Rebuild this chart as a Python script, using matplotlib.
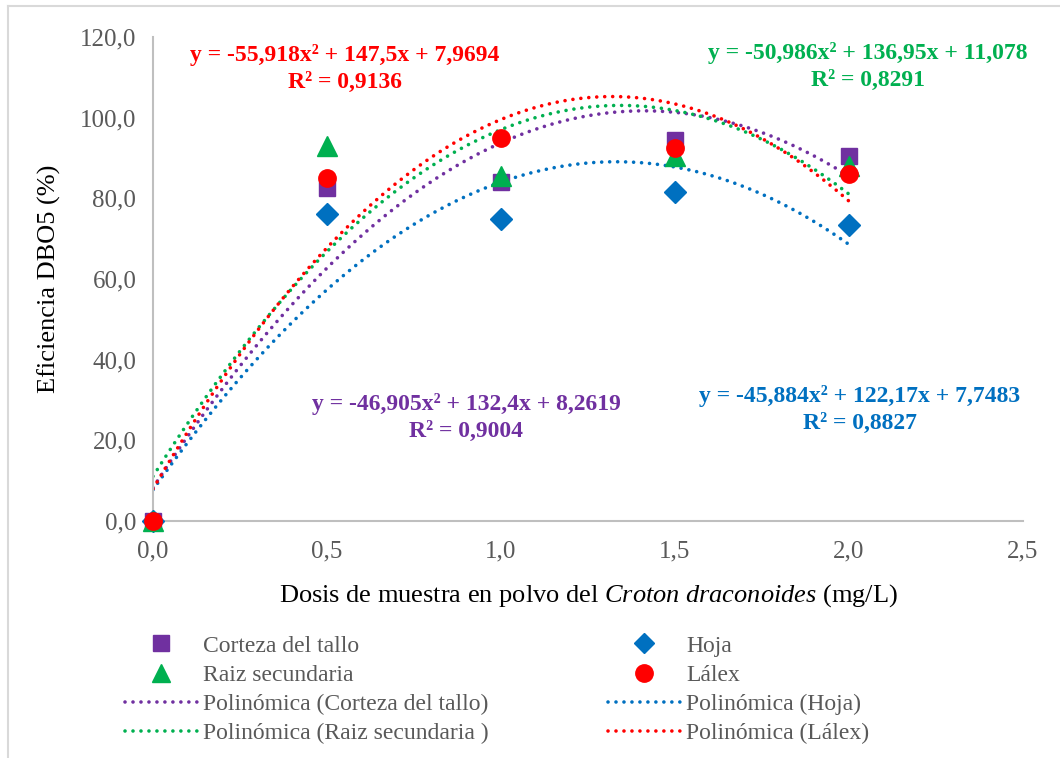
import numpy as np
import matplotlib
matplotlib.use("Agg")
import matplotlib.pyplot as plt
from matplotlib.lines import Line2D

plt.rcParams['font.family'] = ['Liberation Serif', 'DejaVu Serif']
plt.rcParams['mathtext.fontset'] = 'custom'
plt.rcParams['mathtext.rm'] = 'Liberation Serif'
plt.rcParams['mathtext.it'] = 'Liberation Serif:italic'

dosis = [0.0, 0.5, 1.0, 1.5, 2.0]
corteza = [0.0, 82.5, 84.0, 94.5, 90.5]
hoja = [0.0, 76.0, 75.0, 81.5, 73.3]
raiz = [0.0, 93.0, 85.5, 90.5, 88.0]
lalex = [0.0, 85.0, 95.0, 92.5, 86.0]

# polynomial trendline coefficients (a, b, c) for y = a x^2 + b x + c
coef_corteza = [-46.905, 132.4, 8.2619]
coef_hoja = [-45.884, 122.17, 7.7483]
coef_raiz = [-50.986, 136.95, 11.078]
coef_lalex = [-55.918, 147.5, 7.9694]

x_ticks = [0.0, 0.5, 1.0, 1.5, 2.0, 2.5]
y_ticks = [0, 20, 40, 60, 80, 100, 120]

c_purple = '#7030A0'
c_blue = '#0070C0'
c_green = '#00B050'
c_red = '#FF0000'
gray = '#595959'

fig = plt.figure(figsize=(10.6, 7.58), dpi=100)
ax = fig.add_axes([153/1060, 1-521/758, 870/1060, 484/758])

xs = np.linspace(0, 2, 200)
ls = (0, (0.01, 2.2))
lw = 2.6
for coef, col in [(coef_corteza, c_purple), (coef_hoja, c_blue), (coef_raiz, c_green), (coef_lalex, c_red)]:
    ax.plot(xs, np.polyval(coef, xs), color=col, ls=ls, lw=lw, dash_capstyle='round', zorder=2)

ax.plot(dosis, corteza, 's', color=c_purple, ms=11.5, ls='none', zorder=3, clip_on=False)
ax.plot(dosis, hoja, 'D', color=c_blue, ms=11, ls='none', zorder=3, clip_on=False)
ax.plot(dosis, raiz, '^', color=c_green, ms=14, ls='none', zorder=3, clip_on=False)
ax.plot(dosis, lalex, 'o', color=c_red, ms=12.5, ls='none', zorder=3, clip_on=False)

ax.set_xlim(0, 2.5)
ax.set_ylim(0, 120)
ax.set_xticks(x_ticks)
ax.set_xticklabels([f"{v:.1f}".replace('.', ',') for v in x_ticks])
ax.set_yticks(y_ticks)
ax.set_yticklabels([f"{v:.1f}".replace('.', ',') for v in y_ticks])
ax.tick_params(length=0, labelsize=18, colors=gray)
ax.tick_params(axis='y', pad=12)
ax.tick_params(axis='x', pad=14)
for s in ['top', 'right']:
    ax.spines[s].set_visible(False)
for s in ['left', 'bottom']:
    ax.spines[s].set_color('#BFBFBF')
    ax.spines[s].set_linewidth(1.5)

ax.set_ylabel('Eficiencia DBO5 (%)', fontsize=19, color='black', labelpad=14)
ax.set_xlabel(r'Dosis de muestra en polvo del $\mathit{Croton\ draconoides}$ (mg/L)',
              fontsize=19, color='black', labelpad=14)

def eq(a, b, c):
    f = lambda v: str(v).replace('.', ',')
    return f"y = {f(a)}x² + {f(b)}x + {f(c)}"

kw = dict(fontsize=17, fontweight='bold', ha='center', va='center', transform=fig.transFigure)
fig.text(345/1060, 1-55/758, eq(*coef_lalex), color=c_red, **kw)
fig.text(345/1060, 1-82/758, 'R² = 0,9136', color=c_red, **kw)
fig.text(868/1060, 1-53/758, eq(*coef_raiz), color=c_green, **kw)
fig.text(868/1060, 1-80/758, 'R² = 0,8291', color=c_green, **kw)
fig.text(466/1060, 1-404/758, eq(*coef_corteza), color=c_purple, **kw)
fig.text(466/1060, 1-431/758, 'R² = 0,9004', color=c_purple, **kw)
fig.text(860/1060, 1-396/758, eq(*coef_hoja), color=c_blue, **kw)
fig.text(860/1060, 1-423/758, 'R² = 0,8827', color=c_blue, **kw)

h1 = [
    Line2D([], [], marker='s', color=c_purple, ls='none', ms=11),
    Line2D([], [], marker='^', color=c_green, ls='none', ms=13),
    Line2D([], [], color=c_purple, ls=ls, lw=lw, dash_capstyle='round'),
    Line2D([], [], color=c_green, ls=ls, lw=lw, dash_capstyle='round'),
]
l1 = ['Corteza del tallo', 'Raiz secundaria', 'Polinómica (Corteza del tallo)',
      'Polinómica (Raiz secundaria )']
h2 = [
    Line2D([], [], marker='D', color=c_blue, ls='none', ms=10),
    Line2D([], [], marker='o', color=c_red, ls='none', ms=12.5),
    Line2D([], [], color=c_blue, ls=ls, lw=lw, dash_capstyle='round'),
    Line2D([], [], color=c_red, ls=ls, lw=lw, dash_capstyle='round'),
]
l2 = ['Hoja', 'Lálex', 'Polinómica (Hoja)', 'Polinómica (Lálex)']

lkw = dict(loc='upper left', frameon=False, fontsize=17, handlelength=3.05, handletextpad=0.25,
           labelspacing=0.33, borderaxespad=0, borderpad=0)
leg1 = fig.legend(h1, l1, bbox_to_anchor=(125/1060, 1-635/758), **lkw)
leg2 = fig.legend(h2, l2, bbox_to_anchor=(608/1060, 1-635/758), **lkw)
for leg in (leg1, leg2):
    for t in leg.get_texts():
        t.set_color(gray)

fig.add_artist(Line2D([8/1060, 8/1060], [0, 1-6/758], color='#D9D9D9', lw=1.5, transform=fig.transFigure))
fig.add_artist(Line2D([8/1060, 1], [1-6/758, 1-6/758], color='#D9D9D9', lw=1.5, transform=fig.transFigure))

fig.savefig('out.png', dpi=100)
